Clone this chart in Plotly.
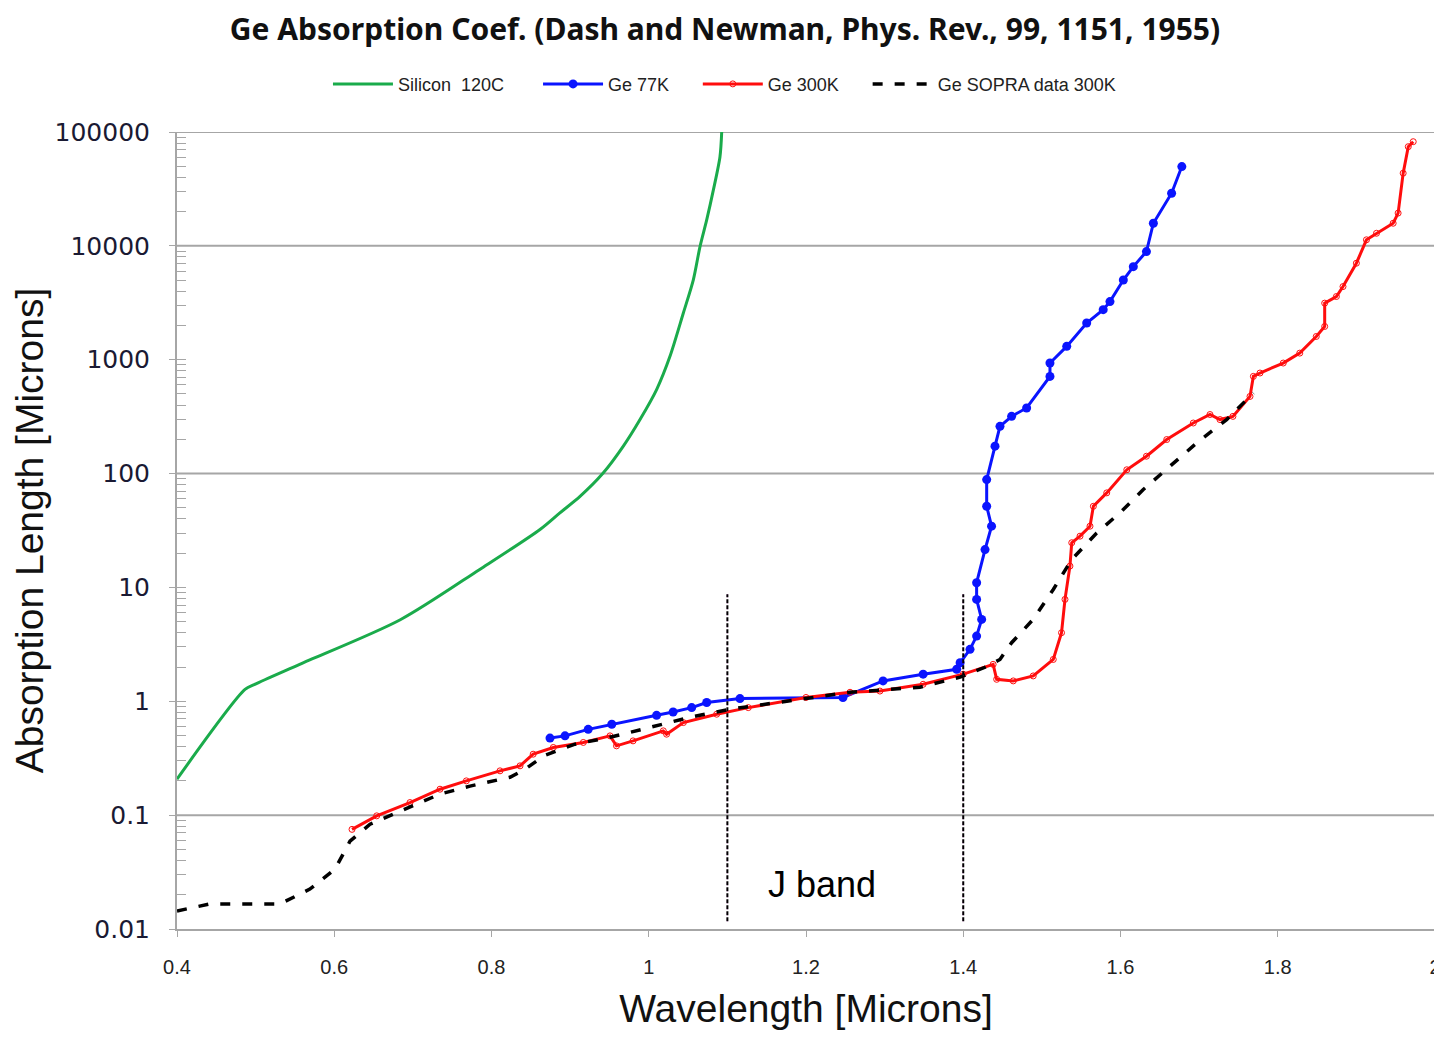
import plotly.graph_objects as go

# ---------------- data ----------------
si_x = [0.4, 0.4865, 0.499, 0.556, 0.684, 0.785, 0.8617, 0.887, 0.9126, 0.942, 0.9677, 0.9889, 1.010,
        1.027, 1.044, 1.0567, 1.0652, 1.0737, 1.0822, 1.0906, 1.0928]
si_y = [0.207, 1.27, 1.41, 2.11, 5.2, 14.4, 32.3, 45.2, 63, 101, 174, 298, 546,
        1070, 2570, 5030, 9860, 16900, 31000, 60700, 100000]

ge77_x = [0.8744, 0.8935, 0.923, 0.953, 1.010, 1.031, 1.0546, 1.0737, 1.116, 1.247, 1.298, 1.349, 1.3917,
          1.396, 1.4086, 1.417, 1.4234, 1.417, 1.417, 1.4277, 1.436, 1.4298, 1.4298, 1.4404, 1.4467,
          1.4615, 1.4806, 1.5103, 1.5103, 1.5316, 1.557, 1.578, 1.5866, 1.6036, 1.6163, 1.633, 1.6418, 1.665, 1.678]
ge77_y = [0.475, 0.497, 0.567, 0.628, 0.753, 0.805, 0.88, 0.975, 1.056, 1.08, 1.51, 1.73, 1.91,
          2.18, 2.86, 3.74, 5.24, 7.85, 11, 21.5, 34.5, 51.6, 88.5, 174, 260,
          318, 377, 713, 935, 1310, 2100, 2750, 3240, 5010, 6570, 8910, 15800, 29000, 49700]

ge300_x = [0.6226, 0.654, 0.6963, 0.7345, 0.768, 0.8108, 0.8363, 0.853, 0.8786, 0.9168, 0.9507, 0.959, 0.980,
           1.0185, 1.0227, 1.044, 1.0864, 1.1266, 1.20, 1.256, 1.294, 1.349, 1.40, 1.438, 1.4425, 1.4636,
           1.489, 1.5145, 1.525, 1.5294, 1.5357, 1.538, 1.5485, 1.5612, 1.5655, 1.5825, 1.608, 1.633,
           1.6588, 1.6926, 1.7138, 1.7265, 1.743, 1.7647, 1.769, 1.7774, 1.807, 1.828, 1.849, 1.8597,
           1.8597, 1.8746, 1.883, 1.90, 1.9128, 1.9256, 1.9468, 1.9531, 1.9595, 1.966, 1.9723]
ge300_y = [0.075, 0.0986, 0.129, 0.169, 0.200, 0.245, 0.271, 0.343, 0.393, 0.435, 0.497, 0.406, 0.449,
           0.55, 0.514, 0.65, 0.77, 0.88, 1.08, 1.2, 1.23, 1.41, 1.73, 2.11, 1.56, 1.51,
           1.67, 2.33, 4.0, 7.85, 15.4, 24.7, 28.2, 34.5, 51.6, 67.7, 108, 142,
           199, 278, 330, 298, 318, 476, 714, 764, 935, 1143, 1600, 1960,
           3140, 3590, 4390, 7040, 11300, 12900, 15800, 19400, 43500, 74300, 82200]

sopra_x = [0.4, 0.442, 0.531, 0.569, 0.601, 0.62, 0.6455, 0.6963, 0.7345, 0.7727, 0.798, 0.8235, 0.8426,
           0.868, 0.9062, 0.9507, 1.0016, 1.0525, 1.103, 1.192, 1.256, 1.345, 1.396, 1.4277, 1.4467,
           1.4615, 1.489, 1.5145, 1.538, 1.5697, 1.5993, 1.629, 1.663, 1.697, 1.735, 1.769]
sopra_y = [0.0144, 0.0166, 0.0166, 0.0224, 0.0336, 0.059, 0.0833, 0.1175, 0.153, 0.18, 0.195, 0.215, 0.253,
           0.336, 0.42, 0.483, 0.59, 0.724, 0.851, 1.04, 1.2, 1.33, 1.63, 1.99, 2.33,
           3.27, 5.24, 9.6, 17.6, 30.1, 45.2, 72.4, 116, 186, 298, 510]

jband_edges = [1.1, 1.4]
jband_ylim = [0.0117, 8.7]
grid_values = [0.1, 100, 10000, 100000]
y_tickvals = [0.01, 0.1, 1, 10, 100, 1000, 10000, 100000]
y_ticktext = ["0.01", "0.1", "1", "10", "100", "1000", "10000", "100000"]
x_tickvals = [0.4, 0.6, 0.8, 1.0, 1.2, 1.4, 1.6, 1.8, 2.0]
x_ticktext = ["0.4", "0.6", "0.8", "1", "1.2", "1.4", "1.6", "1.8", "2"]

fig = go.Figure()

fig.add_trace(go.Scatter(x=si_x, y=si_y, mode="lines", name="Silicon  120C", legend="legend",
                         line=dict(color="#1aab4b", width=3, shape="spline", smoothing=0.8)))
fig.add_trace(go.Scatter(x=ge77_x, y=ge77_y, mode="lines+markers", name="Ge 77K", legend="legend2",
                         line=dict(color="#0a14ff", width=3),
                         marker=dict(color="#0a14ff", size=9, symbol="circle")))
fig.add_trace(go.Scatter(x=ge300_x, y=ge300_y, mode="lines+markers", name="Ge 300K", legend="legend3",
                         line=dict(color="#ff0d0d", width=3),
                         marker=dict(color="#ff0d0d", size=6, symbol="circle-open", line=dict(width=1))))
fig.add_trace(go.Scatter(x=sopra_x, y=sopra_y, mode="lines", name="Ge SOPRA data 300K", legend="legend4",
                         line=dict(color="black", width=3.5, dash="10px,12px")))

shapes = []
for g in grid_values:
    shapes.append(dict(type="line", xref="paper", yref="y", x0=0, x1=1, y0=g, y1=g,
                       line=dict(color="#a6a6a6", width=2), layer="below"))
for xe in jband_edges:
    shapes.append(dict(type="line", xref="x", yref="y", x0=xe, x1=xe, y0=jband_ylim[0], y1=jband_ylim[1],
                       line=dict(color="#ff33ff", width=1, dash="dot")))
    shapes.append(dict(type="line", xref="x", yref="y", x0=xe, x1=xe, y0=jband_ylim[0], y1=jband_ylim[1],
                       line=dict(color="black", width=2, dash="4px,2px")))


def legend_at(xpos):
    return dict(orientation="h", x=xpos, xanchor="left", y=1.06, yanchor="middle",
                font=dict(family="Liberation Sans", size=18, color="#222"),
                itemwidth=60, bgcolor="rgba(0,0,0,0)")


# page body has an 8px margin, so the figure is sized/offset accordingly
fig.update_layout(
    width=1434, height=1030,
    margin=dict(l=169, r=7, t=124, b=109),
    paper_bgcolor="white", plot_bgcolor="white",
    shapes=shapes,
    title=dict(text="<b>Ge Absorption Coef. (Dash and Newman, Phys. Rev., 99, 1151, 1955)</b>",
               x=0.5, xref="container", xanchor="center", y=0.979, yanchor="middle",
               font=dict(family="Noto Sans", size=30, color="#111")),
    legend=legend_at(0.120),
    legend2=legend_at(0.287),
    legend3=legend_at(0.414),
    legend4=legend_at(0.549),
    annotations=[dict(text="J band", x=1.2204, y=-1.605, xref="x", yref="y", showarrow=False,
                      font=dict(family="Liberation Sans", size=36, color="black"))],
    showlegend=True,
)

fig.update_xaxes(range=[0.4, 2.0], tickvals=x_tickvals, ticktext=x_ticktext, automargin=False,
                 showgrid=False, zeroline=False, showline=True, linecolor="#a6a6a6", linewidth=2,
                 ticks="outside", ticklen=6, tickcolor="#a6a6a6", ticklabelstandoff=13,
                 tickfont=dict(family="Liberation Sans", size=20, color="#222"),
                 title=dict(text="Wavelength [Microns]", standoff=18,
                            font=dict(family="Liberation Sans", size=39, color="#111")))
fig.update_yaxes(type="log", range=[-2, 5], tickvals=y_tickvals, ticktext=y_ticktext, automargin=False,
                 showgrid=False, zeroline=False, showline=True, linecolor="#a6a6a6", linewidth=2,
                 ticks="outside", ticklen=6, tickcolor="#a6a6a6", ticklabelstandoff=14,
                 minor=dict(dtick="D1", ticks="inside", ticklen=9, tickcolor="#a6a6a6", showgrid=False),
                 tickfont=dict(family="DejaVu Sans", size=25, color="#1a1a33"),
                 title=dict(text="Absorption Length [Microns]", standoff=4,
                            font=dict(family="Liberation Sans", size=39, color="#111")))

fig.write_html("out.html")
